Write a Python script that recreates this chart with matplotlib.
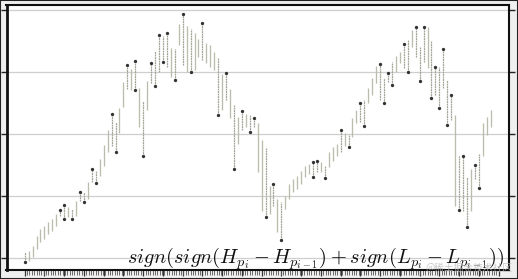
import matplotlib
matplotlib.use("Agg")
import matplotlib.pyplot as plt
import numpy as np
from matplotlib.patches import Rectangle

plt.rcParams['mathtext.fontset'] = 'cm'

# bar highs / lows (price units; grid every 10)
highs = [0.97, 1.13, 1.94, 3.55, 4.68, 5.16, 5.81, 6.29, 7.10, 7.74,
         8.55, 8.23, 7.90, 9.19, 10.65, 10.65, 12.26, 14.35, 14.03, 15.97,
         18.23, 20.65, 23.23, 21.94, 24.19, 28.39, 31.13, 30.48, 31.77, 27.42,
         25.32, 28.55, 31.45, 33.39, 35.97, 35.81, 36.29, 33.87, 33.71, 37.74,
         39.35, 37.42, 36.94, 36.29, 35.32, 37.90, 34.68, 34.35, 33.23, 32.26,
         29.68, 29.84, 27.26, 24.68, 22.74, 23.71, 23.23, 23.06, 22.58, 21.77,
         19.03, 17.74, 11.61, 11.94, 9.52, 9.03, 10.00, 11.94, 12.74, 13.23,
         14.03, 14.84, 15.16, 15.48, 15.65, 15.48, 14.84, 17.10, 17.90, 18.39,
         20.65, 20.16, 19.84, 22.58, 23.87, 25.00, 25.48, 27.42, 29.03, 30.97,
         31.29, 29.03, 29.84, 31.61, 32.58, 33.23, 34.52, 35.16, 36.77, 37.26,
         34.03, 37.26, 37.26, 35.00, 30.81, 30.81, 33.71, 28.71, 26.29, 23.06,
         16.45, 16.45, 13.06, 14.35, 15.00, 16.77, 21.77, 22.74, 23.87]
lows = [-0.65, -0.48, 0.16, 1.45, 2.58, 3.06, 3.87, 4.35, 5.16, 6.77,
        6.29, 6.61, 6.29, 6.77, 9.19, 9.03, 9.52, 12.26, 12.10, 13.23,
        14.84, 17.10, 18.06, 17.10, 20.16, 24.35, 27.26, 27.10, 27.10, 21.13,
        16.45, 23.87, 28.23, 27.74, 30.00, 31.61, 30.81, 29.19, 28.71, 34.35,
        31.13, 30.00, 30.00, 30.32, 32.42, 31.94, 31.45, 30.81, 30.32, 23.06,
        23.87, 25.48, 22.58, 14.35, 18.39, 20.65, 21.13, 20.32, 21.13, 13.87,
        7.58, 6.61, 7.10, 8.39, 4.19, 2.90, 7.90, 9.52, 10.65, 11.13,
        11.94, 13.06, 13.55, 13.06, 13.87, 13.87, 12.90, 14.68, 15.65, 16.45,
        17.10, 18.06, 17.90, 19.52, 21.77, 21.94, 21.29, 25.00, 26.29, 28.23,
        25.48, 25.00, 28.39, 27.90, 30.00, 31.45, 30.65, 30.00, 34.03, 32.42,
        28.55, 31.61, 30.65, 25.81, 26.29, 24.19, 27.42, 21.45, 22.26, 8.39,
        7.74, 7.58, 5.00, 7.58, 12.74, 11.29, 16.45, 19.84, 21.13]

pivot_high_idx = [9, 10, 14, 17, 22, 26, 28, 32, 34, 36, 40, 45, 51, 55, 58, 63,
                  73, 74, 80, 85, 90, 92, 96, 99, 101, 104, 106, 108, 111, 114]
pivot_low_idx = [0, 10, 12, 15, 18, 23, 28, 30, 33, 35, 38, 42, 49, 53, 57, 61, 65,
                 73, 76, 82, 86, 91, 93, 97, 100, 103, 105, 107, 110, 112, 115]

formula = r"$sign(sign(H_{p_i}-H_{p_{i-1}})+sign(L_{p_i}-L_{p_{i-1}}))$"
watermark = "@稀土掘金技术社区"

W, H = 518, 279
fig = plt.figure(figsize=(W / 100, H / 100), dpi=100)
fig.patch.set_facecolor('#efefef')
ax = fig.add_axes([6.5 / W, 1 - 270 / H, 502 / W, 265 / H])
ax.set_facecolor('white')

x = np.arange(len(highs))
hi = np.array(highs)
lo = np.array(lows)
piv = set(pivot_high_idx) | set(pivot_low_idx)
plain = np.array([i not in piv for i in x])
ax.vlines(x[plain], lo[plain], hi[plain], color='#bcbcae', lw=0.95, zorder=2)
ax.vlines(x[~plain], lo[~plain], hi[~plain], color='#a3a396', lw=0.9,
          linestyles=(0, (1.5, 0.5)), zorder=2)
ax.plot(x[pivot_high_idx], hi[pivot_high_idx], 'o', color='#333333', ms=2.4, mew=0, zorder=3)
ax.plot(x[pivot_low_idx], lo[pivot_low_idx], 'o', color='#333333', ms=2.4, mew=0, zorder=3)

ax.set_xlim(-4.6, 122.5)
ax.set_ylim(-1.9, 40.8)
ax.set_yticks([0, 10, 20, 30, 40])
ax.yaxis.grid(True, color='#cfcfcf', lw=0.9)
ax.set_axisbelow(True)
ax.tick_params(axis='y', which='both', left=True, right=True, labelleft=False,
               labelright=False, length=4, width=1, direction='out', color='#222222')
ax.set_xticks(np.arange(0, 121, 5))
ax.set_xticks(np.arange(0, 120.5, 0.6), minor=True)
ax.tick_params(axis='x', which='major', length=4.5, width=0.9, color='#333333', labelbottom=False)
ax.tick_params(axis='x', which='minor', length=3.5, width=0.6, color='#555555')
ax.spines['left'].set_linewidth(2.0)
for s in ['top', 'right', 'bottom']:
    ax.spines[s].set_linewidth(1.5)
for s in ax.spines.values():
    s.set_color('#111111')

ax.text(0.993, 0.025, formula, transform=ax.transAxes, ha='right', va='baseline',
        fontsize=14.7, color='#111111', zorder=5)
fig.text(0.905, 0.022, watermark, ha='center', va='bottom', fontsize=7,
         family=['Noto Sans CJK SC', 'DejaVu Sans'], color='#bbbbbb', alpha=0.8, zorder=6)

fig.patches.append(Rectangle((0, 0), 1, 1, transform=fig.transFigure, fill=False,
                             edgecolor='#222222', lw=1.5, zorder=10))

fig.savefig('out.png', dpi=100, facecolor=fig.get_facecolor())
